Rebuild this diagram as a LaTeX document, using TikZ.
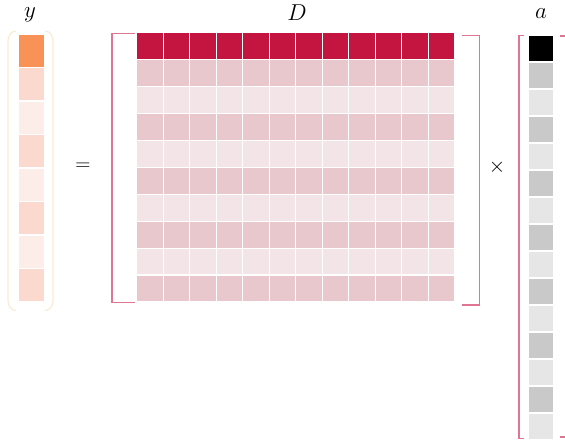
\RequirePackage{fix-cm}
\documentclass[tikz,border=0pt]{standalone}
\usepackage{tikz}
\usetikzlibrary{calc}
\definecolor{mat-dark}{HTML}{C41440}
\definecolor{mat-mid}{HTML}{E8C8CC}
\definecolor{mat-light}{HTML}{F3E5E7}
\definecolor{vec-top}{HTML}{F99257}
\definecolor{vec-mid}{HTML}{FBD9CE}
\definecolor{vec-light}{HTML}{FDEDE9}
\definecolor{vec-frame}{HTML}{FBEAD4}
\definecolor{coef-dark}{HTML}{C9C9C9}
\definecolor{coef-light}{HTML}{E6E6E6}
\definecolor{wp-bracket}{HTML}{E07593}

\begin{document}
\begin{tikzpicture}[x=1pt, y=-1pt, thick]
    \tikzset{
        cell/.style={draw=white, line width=1.2pt},
        bracket/.style={wp-bracket, line width=1.2pt},
        frame/.style={vec-frame, line width=1.2pt},
        label/.style={inner sep=0pt, font=\fontsize{23}{27}\selectfont},
        operator/.style={inner sep=0pt, font=\fontsize{21}{25}\selectfont}
    }
    \clip (0,0) rectangle (565,442);

    % Vector y: 8 entries
    \begin{scope}
        \foreach \i in {0,...,7} {
            \pgfmathsetmacro{\ytop}{34 + \i * 33.5}
            \ifnum\i=0
                \def\cellcolor{vec-top}
            \else
                \ifodd\i \def\cellcolor{vec-mid}\else \def\cellcolor{vec-light}\fi
            \fi
            \fill[cell, fill=\cellcolor] (18.3, \ytop) rectangle (44.3, \ytop + 33.5);
        }
        % Rounded frame
        \draw[frame] (16, 31) to[out=180, in=90] (8, 41) -- (8, 301)
            to[out=-90, in=180] (16, 310.5);
        \draw[frame] (45, 31) to[out=0, in=90] (53, 41) -- (53, 301)
            to[out=-90, in=0] (45, 310.5);
        \node[label] (ylabel) at (30, 15) {$y$};
    \end{scope}

    \node[operator] (equals) at (83, 167) {$=$};

    % Matrix D: 10 rows, 12 columns
    \begin{scope}
        \foreach \j in {0,...,9} {
            \pgfmathsetmacro{\ytop}{32.5 + \j * 26.95}
            \ifnum\j=0
                \def\cellcolor{mat-dark}
            \else
                \ifodd\j \def\cellcolor{mat-mid}\else \def\cellcolor{mat-light}\fi
            \fi
            \foreach \i in {0,...,11} {
                \pgfmathsetmacro{\xleft}{136.7 + \i * 26.5}
                \fill[cell, fill=\cellcolor] (\xleft, \ytop) rectangle (\xleft + 26.5, \ytop + 26.95);
            }
        }
        % Brackets
        \draw[bracket] (134.7, 33.3) -- (112, 33.3) -- (112, 302.3) -- (135, 302.3);
        \draw[bracket] (461.7, 35.7) -- (479.5, 35.7) -- (479.5, 305) -- (461.7, 305);
        \node[label] (Dlabel) at (297, 13) {$D$};
    \end{scope}

    \node[operator] (times) at (497, 167) {$\times$};

    % Vector a: 15 entries
    \begin{scope}
        \foreach \i in {0,...,14} {
            \pgfmathsetmacro{\ytop}{35 + \i * 27}
            \ifnum\i=0
                \def\cellcolor{black}
            \else
                \ifodd\i \def\cellcolor{coef-dark}\else \def\cellcolor{coef-light}\fi
            \fi
            \fill[cell, fill=\cellcolor] (528.3, \ytop) rectangle (553.7, \ytop + 27);
        }
        % Brackets
        \draw[bracket] (524, 35.3) -- (519, 35.3) -- (519, 438.3) -- (524, 438.3);
        \draw[bracket] (560, 36) -- (568, 36) -- (568, 437) -- (560, 437);
        \node[label] (alabel) at (541, 14) {$a$};
    \end{scope}
\end{tikzpicture}
\end{document}
